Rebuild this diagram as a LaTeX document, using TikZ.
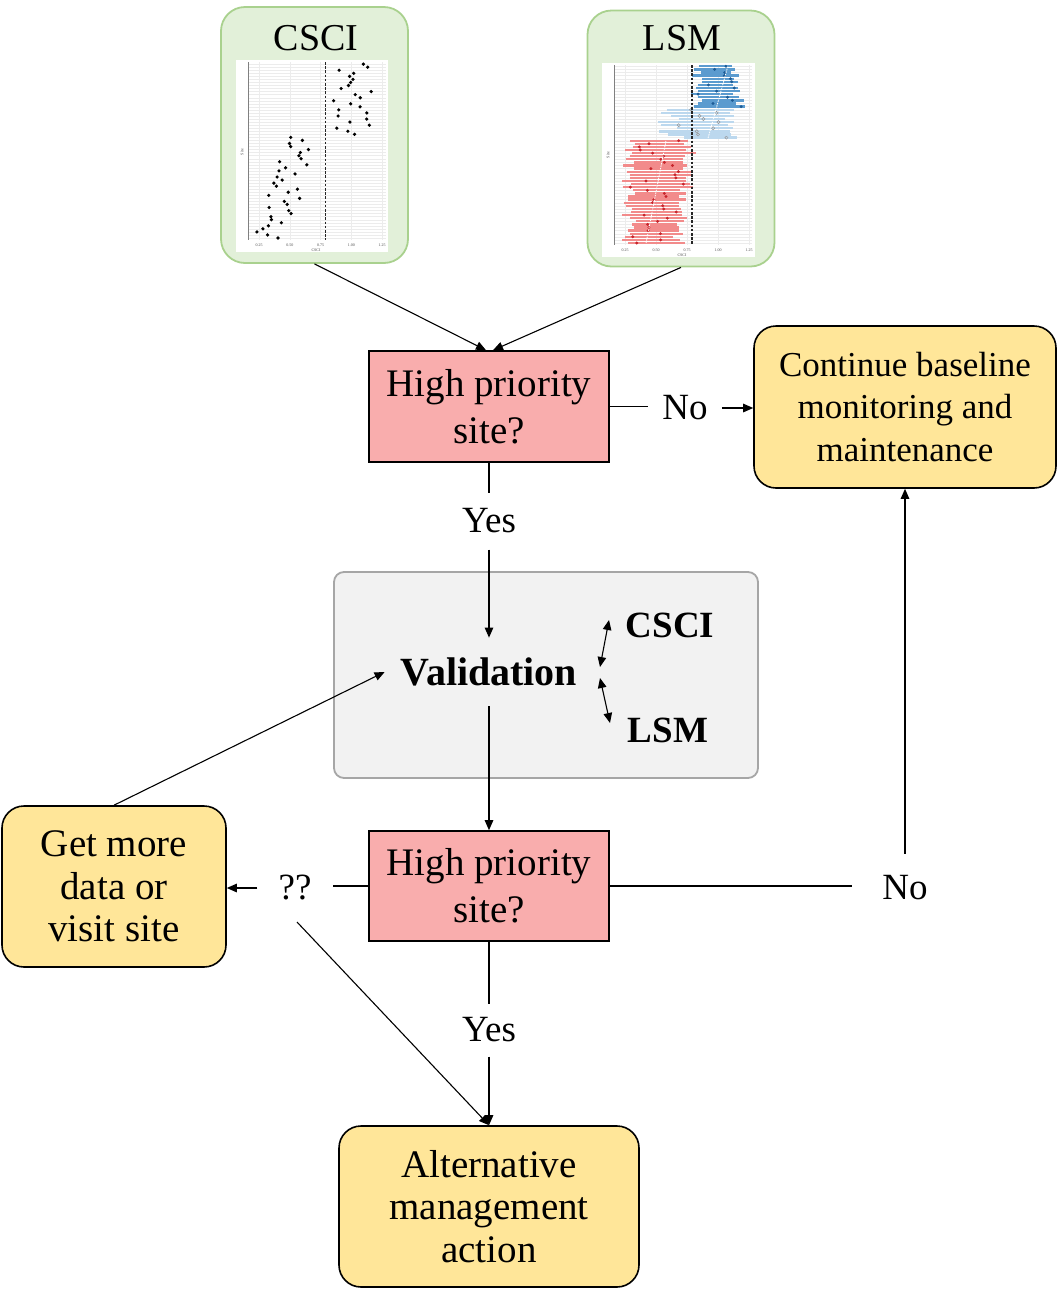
\documentclass[tikz,border=0pt]{standalone}
\usepackage{fontspec}
\setmainfont{Liberation Serif}
\usetikzlibrary{arrows.meta}
\definecolor{plotgreen}{HTML}{E2F0D9}
\definecolor{plotedge}{HTML}{A9D18E}
\definecolor{pinkfill}{HTML}{F9ADAD}
\definecolor{goldfill}{HTML}{FFE699}
\definecolor{valfill}{HTML}{F2F2F2}
\definecolor{valedge}{HTML}{A6A6A6}
\definecolor{lsmred}{HTML}{F28B8B}
\definecolor{dotred}{HTML}{C8252C}
\definecolor{lsmblue}{HTML}{5B9BCF}
\definecolor{lsmpale}{HTML}{BCD8EE}
\definecolor{dotblue}{HTML}{1D5C96}
\tikzset{
  plotbox/.style={draw=plotedge, fill=plotgreen, line width=1.8pt, rounded corners=24pt, minimum width=187pt, minimum height=256pt, inner sep=0pt},
  hpbox/.style={draw=black, fill=pinkfill, line width=1.6pt, minimum width=240pt, minimum height=111pt, align=center, inner sep=0pt, font=\fontsize{39}{47}\selectfont},
  actbox/.style={draw=black, fill=goldfill, line width=1.6pt, rounded corners=22pt, align=center, inner sep=0pt, font=\fontsize{39}{42.5}\selectfont},
  valbox/.style={draw=valedge, fill=valfill, line width=1.8pt, rounded corners=10pt, minimum width=424pt, minimum height=206pt},
  lab/.style={font=\fontsize{37}{44}\selectfont, inner xsep=14pt, inner ysep=16pt},
  ttl/.style={font=\fontsize{38}{44}\selectfont, inner sep=2pt},
  bld/.style={font=\fontsize{37}{44}\selectfont\bfseries, inner sep=4pt},
  conn/.style={draw=black, line width=1.1pt},
  arr/.style={conn, -{Triangle[length=10pt,width=8.5pt]}},
  dbl/.style={conn, {Triangle[length=10pt,width=8.5pt]}-{Triangle[length=10pt,width=8.5pt]}},
  gridln/.style={draw=gray!15, line width=0.4pt},
  thresh/.style={draw=black!85, line width=1.3pt, dash pattern=on 2.6pt off 1.6pt},
  tick/.style={font=\fontsize{4}{4}\selectfont, inner sep=0.5pt, text=black!70},
}

\begin{document}
\begin{tikzpicture}[x=1pt, y=-1pt]
  \useasboundingbox (0,0) rectangle (1063,1294);

  % the two site plots
  \node[plotbox] (csciBox) at (314.5,135) {};
  \node[plotbox] (lsmBox) at (681,138.5) {};
  \node[ttl] (csciTitle) at (316,38) {CSCI};
  \node[ttl] (lsmTitle) at (682,38) {LSM};

  % CSCI scores by site
  \fill[white] (236,60) rectangle (388,252);
  \foreach \i in {1,...,58}
    \draw[gridln] (248,{238-(\i-1)*3.05}) -- (386,{238-(\i-1)*3.05});
  \foreach \v [count=\k] in {0.25,0.50,0.75,1.00,1.25}{
    \draw[gridln] ({259+(\v-0.25)*123},62) -- ({259+(\v-0.25)*123},240);
    \node[tick] (cTick\k) at ({259+(\v-0.25)*123},245) {\v};
  }
  \draw[black!50, line width=0.4pt] (248,62) -- (248,240);
  \node[tick] (cAxis) at (316,250) {CSCI};
  \node[tick, rotate=90] (cSite) at (242,152) {Site};
  \pgfmathsetseed{11}
  \foreach \i in {1,...,58}{
    \pgfmathsetmacro{\yy}{238-(\i-1)*3.05}
    \pgfmathsetmacro{\vv}{\i<35 ? 0.20+0.007*\i+0.3*rnd : 0.78+0.005*(\i-34)+0.38*rnd}
    \fill ({259+(\vv-0.25)*123},\yy) circle (1.8pt);
  }
  \draw[thresh] ({259+(0.79-0.25)*123},62) -- ({259+(0.79-0.25)*123},240);

  % LSM intervals by site
  \fill[white] (602,63) rectangle (755,257);
  \foreach \i in {1,...,58}
    \draw[gridln] (614,{243-(\i-1)*3.1}) -- (752,{243-(\i-1)*3.1});
  \foreach \v [count=\k] in {0.25,0.50,0.75,1.00,1.25}{
    \draw[gridln] ({625+(\v-0.25)*124},65) -- ({625+(\v-0.25)*124},245);
    \node[tick] (lTick\k) at ({625+(\v-0.25)*124},250) {\v};
  }
  \draw[black!50, line width=0.4pt] (614,65) -- (614,245);
  \node[tick] (lAxis) at (682,255) {CSCI};
  \node[tick, rotate=90] (lSite) at (608,155) {Site};
  \pgfmathsetseed{5}
  \foreach \i in {1,...,58}{
    \pgfmathsetmacro{\yy}{243-(\i-1)*3.1}
    \ifnum\i<35
      \pgfmathsetmacro{\lo}{0.22+0.12*rnd}
      \pgfmathsetmacro{\hi}{0.62+0.003*\i+0.12*rnd}
      \pgfmathsetmacro{\pv}{\lo+(\hi-\lo)*(0.1+0.8*rnd)}
      \draw[lsmred, line width=2.3pt] ({625+(\lo-0.25)*124},\yy) -- ({625+(\hi-0.25)*124},\yy);
      \fill[dotred] ({625+(\pv-0.25)*124},\yy) circle (1.6pt);
    \else\ifnum\i<45
      \pgfmathsetmacro{\lo}{0.48+0.25*rnd}
      \pgfmathsetmacro{\hi}{1.05+0.12*rnd}
      \pgfmathsetmacro{\pv}{\lo+(\hi-\lo)*(0.2+0.7*rnd)}
      \draw[lsmpale, line width=2.3pt] ({625+(\lo-0.25)*124},\yy) -- ({625+(\hi-0.25)*124},\yy);
      \draw[black!40, line width=0.5pt] ({625+(\pv-0.25)*124},\yy) circle (1.6pt);
    \else
      \pgfmathsetmacro{\lo}{0.78+0.1*rnd}
      \pgfmathsetmacro{\hi}{1.1+0.12*rnd}
      \pgfmathsetmacro{\pv}{\lo+(\hi-\lo)*(0.1+0.85*rnd)}
      \draw[lsmblue, line width=2.3pt] ({625+(\lo-0.25)*124},\yy) -- ({625+(\hi-0.25)*124},\yy);
      \fill[dotblue] ({625+(\pv-0.25)*124},\yy) circle (1.6pt);
    \fi\fi
  }
  \draw[white, line width=0.8pt, dash pattern=on 1.5pt off 1pt] ({625+(0.42-0.25)*124},243) -- ({625+(0.58-0.25)*124},141);
  \draw[white, line width=0.8pt, dash pattern=on 1.5pt off 1pt] ({625+(0.92-0.25)*124},138) -- ({625+(1.08-0.25)*124},66);
  \draw[thresh] ({625+(0.79-0.25)*124},65) -- ({625+(0.79-0.25)*124},245);

  % decision flow
  \node[hpbox] (hp1) at (489,406.5) {High priority\\site?};
  \node[actbox, minimum width=302pt, minimum height=162pt, font=\fontsize{35}{42.5}\selectfont] (cont) at (905,407)
    {Continue baseline\\monitoring and\\maintenance};
  \node[lab] (no1) at (685,408) {No};
  \node[lab] (yes1) at (489,521) {Yes};

  \node[valbox] (val) at (546,675) {};
  \node[font=\fontsize{40}{48}\selectfont\bfseries, inner xsep=16pt, inner ysep=20pt] (valTxt) at (489,672) {Validation};
  \node[bld] (valCsci) at (670,625) {CSCI};
  \node[bld] (valLsm) at (668,730) {LSM};
  \coordinate (forkUp) at (600,667);
  \coordinate (forkDn) at (600,678);
  \coordinate (toCsci) at (609,620);
  \coordinate (toLsm) at (610,723);

  \node[hpbox, minimum height=110pt] (hp2) at (489,886) {High priority\\site?};
  \node[lab, inner xsep=30pt, inner ysep=22pt] (no2) at (905,888) {No};
  \node[lab, inner xsep=21pt] (qq) at (295,888) {??};
  \coordinate (qqFoot) at (297,922);
  \node[actbox, minimum width=224pt, minimum height=161pt] (more) at (114,886.5) {Get more\\data or\\visit site};
  \node[lab, inner ysep=14pt] (yes2) at (489,1030) {Yes};
  \node[actbox, minimum width=300pt, minimum height=161pt] (alt) at (489,1206.5) {Alternative\\management\\action};

  % connectors
  \draw[arr] (csciBox.south) -- ([xshift=-3pt]hp1.north);
  \draw[arr] (lsmBox.south) -- ([xshift=4pt]hp1.north);
  \draw[conn] (hp1.east) -- (hp1.east -| no1.west);
  \draw[arr] (no1.east) -- (no1.east -| cont.west);
  \draw[conn] (hp1.south) -- (yes1.north);
  \draw[arr] (yes1.south) -- (valTxt.north);
  \draw[dbl] (forkUp) -- (toCsci);
  \draw[dbl] (forkDn) -- (toLsm);
  \draw[arr] (valTxt.south) -- (hp2.north);
  \draw[conn] (hp2.east) -- (hp2.east -| no2.west);
  \draw[arr] (no2.north) -- (cont.south);
  \draw[conn] (hp2.west) -- (hp2.west -| qq.east);
  \draw[arr] (qq.west) -- (qq.west -| more.east);
  \draw[arr] (more.north) -- (valTxt.west);
  \draw[arr] (qqFoot) -- (alt.north);
  \draw[conn] (hp2.south) -- (yes2.north);
  \draw[arr] (yes2.south) -- (alt.north);
\end{tikzpicture}
\end{document}
